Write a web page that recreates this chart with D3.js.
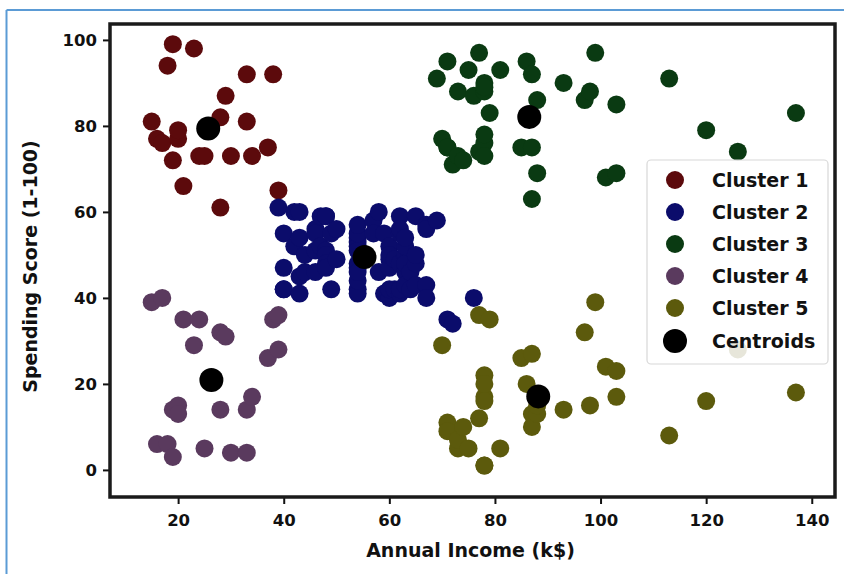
<!DOCTYPE html>
<html><head><meta charset="utf-8">
<script src="https://cdn.jsdelivr.net/npm/d3@7/dist/d3.min.js"></script>
<style>
html,body{margin:0;padding:0;background:#fff;}
svg{display:block;}
text{font-family:"DejaVu Sans",sans-serif;font-weight:bold;fill:#111;}
</style></head>
<body>
<svg id="chart" width="844" height="574"></svg>
<script>
// ---- data (Annual Income k$, Spending Score) ----
const cluster1 = [[15,81],[16,77],[17,76],[18,94],[19,72],[19,99],[20,77],[20,79],[21,66],[23,98],[24,73],[25,73],[28,82],[28,61],[29,87],[30,73],[33,92],[33,81],[34,73],[37,75],[38,92],[39,65]];
const cluster2 = [[39,61],[40,55],[40,47],[40,42],[40,42],[42,52],[42,60],[43,54],[43,60],[43,45],[43,41],[44,50],[44,46],[46,51],[46,46],[46,56],[46,55],[47,52],[47,59],[48,51],[48,59],[48,50],[48,48],[48,59],[48,47],[49,55],[49,42],[50,49],[50,56],[54,47],[54,54],[54,53],[54,48],[54,52],[54,42],[54,51],[54,55],[54,41],[54,44],[54,57],[54,46],[57,58],[57,55],[58,60],[58,46],[59,55],[59,41],[60,49],[60,40],[60,42],[60,52],[60,47],[60,50],[61,42],[61,49],[62,41],[62,48],[62,59],[62,55],[62,56],[62,42],[63,50],[63,46],[63,43],[63,48],[63,52],[63,54],[64,42],[64,46],[65,48],[65,50],[65,43],[65,59],[67,43],[67,57],[67,56],[67,40],[69,58],[71,35],[72,34],[76,40]];
const cluster3 = [[69,91],[70,77],[71,95],[71,75],[71,75],[72,71],[73,88],[73,73],[74,72],[75,93],[76,87],[77,97],[77,74],[78,90],[78,88],[78,76],[78,89],[78,78],[78,73],[79,83],[81,93],[85,75],[86,95],[87,63],[87,75],[87,92],[88,86],[88,69],[93,90],[97,86],[98,88],[99,97],[101,68],[103,85],[103,69],[113,91],[120,79],[126,74],[137,83]];
const cluster4 = [[15,39],[16,6],[17,40],[18,6],[19,3],[19,14],[20,15],[20,13],[21,35],[23,29],[24,35],[25,5],[28,14],[28,32],[29,31],[30,4],[33,4],[33,14],[34,17],[37,26],[38,35],[39,36],[39,28]];
const cluster5 = [[70,29],[71,11],[71,9],[73,5],[73,7],[74,10],[75,5],[77,12],[77,36],[78,22],[78,17],[78,20],[78,16],[78,1],[78,1],[79,35],[81,5],[85,26],[86,20],[87,27],[87,13],[87,10],[88,13],[88,15],[93,14],[97,32],[98,15],[99,39],[101,24],[103,17],[103,23],[113,8],[120,16],[126,28],[137,18]];
const centroids = [[25.7,79.4],[55.3,49.5],[86.5,82.1],[26.3,20.9],[88.2,17.1]];
const seriesNames = ["Cluster 1","Cluster 2","Cluster 3","Cluster 4","Cluster 5","Centroids"];
const seriesColors = ["#5c0a0c","#0b0c6b","#0a3a12","#5a3a5e","#5c5a0c","#000000"];
const xTicks = [20,40,60,80,100,120,140];
const yTicks = [0,20,40,60,80,100];
const xTitle = "Annual Income (k$)";
const yTitle = "Spending Score (1-100)";

// ---- layout ----
const svg = d3.select("#chart");
const plot = {left:110, right:835, top:24, bottom:497};
const x = d3.scaleLinear().domain([7.1,144.4]).range([plot.left, plot.right]);
const y = d3.scaleLinear().domain([-6.3,103.7]).range([plot.bottom, plot.top]);

// outer blue frame (top and left)
svg.append("line").attr("x1",6.5).attr("x2",844).attr("y1",10).attr("y2",10).attr("stroke","#5b9bd5").attr("stroke-width",2);
svg.append("line").attr("x1",6.5).attr("x2",6.5).attr("y1",10).attr("y2",574).attr("stroke","#5b9bd5").attr("stroke-width",2);

// axes
const xAxis = svg.append("g").attr("transform",`translate(0,${plot.bottom})`)
  .call(d3.axisBottom(x).tickValues(xTicks).tickSize(7).tickPadding(10));
const yAxis = svg.append("g").attr("transform",`translate(${plot.left},0)`)
  .call(d3.axisLeft(y).tickValues(yTicks).tickSize(7).tickPadding(6));
[xAxis,yAxis].forEach(g=>{
  g.select(".domain").remove();
  g.selectAll(".tick line").attr("stroke","#111").attr("stroke-width",2);
  g.selectAll(".tick text").style("font-size","16.5px").style("font-weight","bold").attr("fill","#111");
});

// points
const groups = [cluster1,cluster2,cluster3,cluster4,cluster5];
const pts = svg.append("g");
groups.forEach((data,i)=>{
  pts.append("g").selectAll("circle").data(data).join("circle")
    .attr("cx",d=>x(d[0])).attr("cy",d=>y(d[1])).attr("r",9)
    .attr("fill",seriesColors[i]);
});
pts.append("g").selectAll("circle").data(centroids).join("circle")
  .attr("cx",d=>x(d[0])).attr("cy",d=>y(d[1])).attr("r",12)
  .attr("fill",seriesColors[5]);

// frame
svg.append("rect").attr("x",plot.left).attr("y",plot.top)
  .attr("width",plot.right-plot.left).attr("height",plot.bottom-plot.top)
  .attr("fill","none").attr("stroke","#1a1a1a").attr("stroke-width",3.5);

// axis titles
svg.append("text").attr("x",(plot.left+plot.right)/2 - 2).attr("y",557)
  .attr("text-anchor","middle").style("font-size","19px").text(xTitle);
svg.append("text").attr("transform",`translate(37,${(plot.top+plot.bottom)/2+6}) rotate(-90)`)
  .attr("text-anchor","middle").style("font-size","19px").text(yTitle);

// legend
const lg = svg.append("g");
lg.append("rect").attr("x",647).attr("y",160).attr("width",181).attr("height",204)
  .attr("rx",4).attr("fill","#fff").attr("fill-opacity",0.85).attr("stroke","#d8d8d8").attr("stroke-width",1.2);
const rowY = [180,212,244,276,308,341];
seriesNames.forEach((name,i)=>{
  lg.append("circle").attr("cx",675).attr("cy",rowY[i]).attr("r",i===5?12:9).attr("fill",seriesColors[i]);
  lg.append("text").attr("x",712).attr("y",rowY[i]).attr("dy","0.35em")
    .style("font-size","19px").text(name);
});
</script>
</body></html>
